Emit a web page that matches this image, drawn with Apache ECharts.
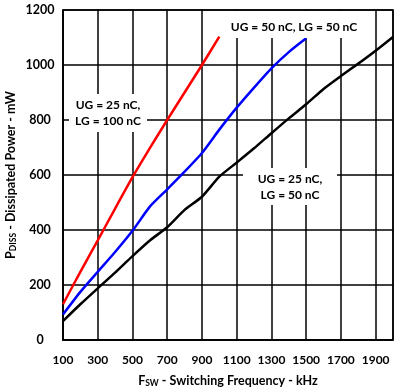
<!DOCTYPE html>
<html>
<head>
<meta charset="utf-8">
<script src="https://cdn.jsdelivr.net/npm/echarts@6/dist/echarts.min.js"></script>
<style>
html,body{margin:0;padding:0;background:#fff;}
#chart{width:395px;height:391px;}
</style>
</head>
<body>
<div id="chart"></div>
<script>
// Data
var redFreq = [100, 200, 300, 400, 500, 600, 700, 800, 900, 1000];
var redPower = [130, 248, 362, 478, 592, 698, 800, 900, 1000, 1103];

var blueFreq = [100, 200, 300, 400, 500, 600, 700, 800, 900, 1000, 1100, 1200, 1300, 1400, 1500];
var bluePower = [93, 175, 248, 320, 397, 485, 548, 612, 680, 765, 845, 918, 988, 1047, 1097];

var blackFreq = [100, 200, 300, 400, 500, 600, 700, 800, 900, 1000, 1100, 1200, 1300, 1400, 1500, 1600, 1700, 1800, 1900, 2000];
var blackPower = [69, 130, 188, 245, 305, 362, 410, 473, 521, 594, 645, 697, 752, 806, 857, 913, 960, 1005, 1052, 1102];

var seriesNames = ['UG = 25 nC, LG = 100 nC', 'UG = 50 nC, LG = 50 nC', 'UG = 25 nC, LG = 50 nC'];
var xTickLabels = ['100', '300', '500', '700', '900', '1100', '1300', '1500', '1700', '1900'];
var yTickLabels = ['0', '200', '400', '600', '800', '1000', '1200'];

function pairs(xs, ys) { return xs.map(function (x, i) { return [x, ys[i]]; }); }

var FONT = 'Lato';
var chart = echarts.init(document.getElementById('chart'), null, { renderer: 'canvas' });

function labelBox(lines, cx, top, w, h, textCy) {
  var children = [{
    type: 'rect', shape: { x: cx - w / 2, y: top, width: w, height: h },
    style: { fill: '#fff' }, z: 5
  }];
  lines.forEach(function (t, i) {
    children.push({
      type: 'text', x: cx, y: textCy + (i - (lines.length - 1) / 2) * 16, z: 6,
      style: { text: t, fill: '#000', font: 'bold 12px ' + FONT, textAlign: 'center', textVerticalAlign: 'middle' }
    });
  });
  return { type: 'group', children: children };
}

chart.setOption({
  animation: false,
  grid: { left: 63, right: 2, top: 10, bottom: 51, show: true, borderColor: '#000', borderWidth: 1.5,
          outerBoundsMode: 'none', containLabel: false },
  xAxis: {
    type: 'value', min: 100, max: 2000, interval: 200,
    axisLine: { show: true, lineStyle: { color: '#000', width: 1.5 } },
    axisTick: { show: false },
    splitLine: { show: true, lineStyle: { color: '#000', width: 1.5 } },
    axisLabel: {
      margin: 14, color: '#000', fontFamily: FONT, fontWeight: 'bold', fontSize: 12,
      showMaxLabel: false, hideOverlap: false,
      formatter: function (v) { return xTickLabels.indexOf(String(v)) >= 0 ? String(v) : ''; }
    },
    name: '{a|F}{s|SW}{a| - Switching Frequency - kHz}',
    nameLocation: 'middle', nameGap: 34,
    nameTextStyle: {
      rich: {
        a: { fontFamily: FONT, fontWeight: 'bold', fontSize: 12.5, color: '#000' },
        s: { fontFamily: FONT, fontWeight: 'bold', fontSize: 8.5, color: '#000', padding: [5, 0, 0, 0] }
      }
    }
  },
  yAxis: {
    type: 'value', min: 0, max: 1200, interval: 200,
    axisLine: { show: true, lineStyle: { color: '#000', width: 1.5 } },
    axisTick: { show: false },
    splitLine: { show: true, lineStyle: { color: '#000', width: 1.5 } },
    axisLabel: {
      margin: 23, align: 'center', color: '#000', fontFamily: FONT, fontWeight: 'bold', fontSize: 12.5,
      formatter: function (v) { return yTickLabels.indexOf(String(v)) >= 0 ? String(v) : ''; }
    },
    name: '{a|P}{s|DISS}{a| - Dissipated Power - mW}',
    nameLocation: 'middle', nameGap: 45, nameMoveOverlap: false,
    nameTextStyle: {
      rich: {
        a: { fontFamily: FONT, fontWeight: 'bold', fontSize: 12.5, color: '#000' },
        s: { fontFamily: FONT, fontWeight: 'bold', fontSize: 8.5, color: '#000', padding: [5, 0, 0, 0] }
      }
    }
  },
  series: [
    { name: seriesNames[0], type: 'line', data: pairs(redFreq, redPower), showSymbol: false, smooth: 0.2,
      lineStyle: { color: '#ff0000', width: 2.5 }, z: 3 },
    { name: seriesNames[1], type: 'line', data: pairs(blueFreq, bluePower), showSymbol: false, smooth: 0.2,
      lineStyle: { color: '#0000ff', width: 2.5 }, z: 3 },
    { name: seriesNames[2], type: 'line', data: pairs(blackFreq, blackPower), showSymbol: false, smooth: 0.2,
      lineStyle: { color: '#000000', width: 2.5 }, z: 3 }
  ],
  graphic: [
    labelBox(['UG = 25 nC,', 'LG = 100 nC'], 108, 94, 78, 38, 113),
    labelBox(['UG = 50 nC, LG = 50 nC'], 294, 11, 130, 27, 27),
    labelBox(['UG = 25 nC,', 'LG = 50 nC'], 290, 168, 94, 37, 187)
  ]
});
</script>
</body>
</html>
